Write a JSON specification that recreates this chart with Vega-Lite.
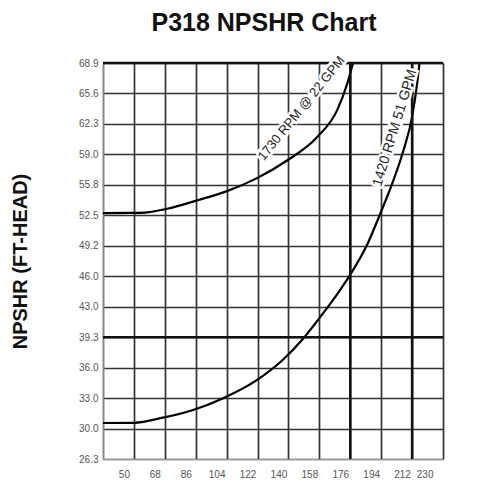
{
  "$schema": "https://vega.github.io/schema/vega-lite/v6.json",
  "autosize": "none",
  "width": 340,
  "height": 396,
  "padding": {"left": 103, "top": 63, "right": 34, "bottom": 30},
  "background": "white",
  "title": {
    "text": "P318 NPSHR Chart",
    "font": "Liberation Sans",
    "fontSize": 25,
    "fontWeight": "bold",
    "color": "#111111",
    "anchor": "middle",
    "frame": "group",
    "baseline": "bottom",
    "dx": -9,
    "offset": -7
  },
  "config": {"view": {"stroke": null}},
  "datasets": {
    "curves": [
      {"series": "1730 RPM", "temp": 32, "npshr": 52.74},
      {"series": "1730 RPM", "temp": 53.5, "npshr": 52.76},
      {"series": "1730 RPM", "temp": 69.3, "npshr": 53.2},
      {"series": "1730 RPM", "temp": 86.7, "npshr": 54.1},
      {"series": "1730 RPM", "temp": 104.2, "npshr": 55.1},
      {"series": "1730 RPM", "temp": 121.7, "npshr": 56.5},
      {"series": "1730 RPM", "temp": 139.2, "npshr": 58.4},
      {"series": "1730 RPM", "temp": 156.6, "npshr": 60.9},
      {"series": "1730 RPM", "temp": 168.3, "npshr": 63.8},
      {"series": "1730 RPM", "temp": 174.1, "npshr": 66.6},
      {"series": "1730 RPM", "temp": 177.6, "npshr": 68.9},
      {"series": "1420 RPM", "temp": 32, "npshr": 30.13},
      {"series": "1420 RPM", "temp": 50, "npshr": 30.15},
      {"series": "1420 RPM", "temp": 67, "npshr": 30.7},
      {"series": "1420 RPM", "temp": 84, "npshr": 31.5},
      {"series": "1420 RPM", "temp": 102, "npshr": 32.8},
      {"series": "1420 RPM", "temp": 122, "npshr": 34.8},
      {"series": "1420 RPM", "temp": 136, "npshr": 36.8},
      {"series": "1420 RPM", "temp": 148.5, "npshr": 39.2},
      {"series": "1420 RPM", "temp": 160, "npshr": 41.9},
      {"series": "1420 RPM", "temp": 168, "npshr": 43.9},
      {"series": "1420 RPM", "temp": 176, "npshr": 46.1},
      {"series": "1420 RPM", "temp": 186, "npshr": 49.4},
      {"series": "1420 RPM", "temp": 193.3, "npshr": 52.6},
      {"series": "1420 RPM", "temp": 201, "npshr": 56.2},
      {"series": "1420 RPM", "temp": 207, "npshr": 59.5},
      {"series": "1420 RPM", "temp": 212, "npshr": 63.1},
      {"series": "1420 RPM", "temp": 215, "npshr": 66.75},
      {"series": "1420 RPM", "temp": 216.3, "npshr": 68.9}
    ],
    "vlines": [{"temp": 176}, {"temp": 212}],
    "hlines": [{"npshr": 39.37}, {"npshr": 68.9}],
    "label1": [{"label": "1730 RPM @ 22 GPM", "temp": 147.5, "npshr": 64.0}],
    "label2": [{"label": "1420 RPM 51 GPM", "temp": 202.0, "npshr": 61.9}]
  },
  "layer": [
    {
      "data": {"name": "curves"},
      "mark": {"type": "line", "color": "black", "strokeWidth": 2.2, "interpolate": "monotone", "clip": true},
      "encoding": {
        "x": {
          "field": "temp",
          "type": "quantitative",
          "scale": {"domain": [32, 230], "nice": false, "zero": false},
          "axis": {
            "title": null,
            "values": [50, 68, 86, 104, 122, 140, 158, 176, 194, 212, 230],
            "tickCount": 30,
            "grid": true,
            "gridColor": "#333333",
            "gridWidth": 1.7,
            "domainColor": "#999999",
            "domainWidth": 1,
            "ticks": false,
            "labelPadding": 10,
            "labelOffset": -10,
            "labelFont": "Liberation Sans",
            "labelFontSize": 10,
            "labelColor": "#555555"
          }
        },
        "y": {
          "field": "npshr",
          "type": "quantitative",
          "scale": {"domain": [26.25, 68.9], "nice": false, "zero": false},
          "axis": {
            "title": "NPSHR (FT-HEAD)",
            "titleFont": "Liberation Sans",
            "titleFontSize": 20,
            "titleFontWeight": "bold",
            "titleColor": "#111111",
            "titleAngle": -90,
            "titleX": -83,
            "titleY": 198,
            "titleAlign": "center",
            "titleBaseline": "middle",
            "values": [26.25, 29.53, 32.81, 36.09, 39.37, 42.65, 45.93, 49.21, 52.49, 55.77, 59.06, 62.34, 65.62, 68.9],
            "tickCount": 30,
            "labelExpr": "['26.3','30.0','33.0','36.0','39.3','43.0','46.0','49.2','52.5','55.8','59.0','62.3','65.6','68.9'][round((datum.value - 26.25) / 3.2808)]",
            "grid": true,
            "gridColor": "#333333",
            "gridWidth": 1.7,
            "domainColor": "#888888",
            "domainWidth": 2,
            "ticks": false,
            "labelPadding": 5,
            "labelFont": "Liberation Sans",
            "labelFontSize": 10,
            "labelColor": "#555555"
          }
        },
        "detail": {"field": "series"}
      }
    },
    {
      "data": {"name": "vlines"},
      "mark": {"type": "rule", "color": "#111111", "strokeWidth": 2.5},
      "encoding": {"x": {"field": "temp", "type": "quantitative"}}
    },
    {
      "data": {"name": "hlines"},
      "mark": {"type": "rule", "color": "#111111", "strokeWidth": 2.5},
      "encoding": {"y": {"field": "npshr", "type": "quantitative"}}
    },
    {
      "data": {"name": "label1"},
      "mark": {"type": "text", "angle": -51, "font": "Liberation Sans", "fontSize": 13, "stroke": "white", "strokeWidth": 5, "fill": "white", "align": "center", "baseline": "middle"},
      "encoding": {"x": {"field": "temp", "type": "quantitative"}, "y": {"field": "npshr", "type": "quantitative"}, "text": {"field": "label"}}
    },
    {
      "data": {"name": "label1"},
      "mark": {"type": "text", "angle": -51, "font": "Liberation Sans", "fontSize": 13, "fill": "#222222", "align": "center", "baseline": "middle"},
      "encoding": {"x": {"field": "temp", "type": "quantitative"}, "y": {"field": "npshr", "type": "quantitative"}, "text": {"field": "label"}}
    },
    {
      "data": {"name": "label2"},
      "mark": {"type": "text", "angle": -73, "font": "Liberation Sans", "fontSize": 14, "stroke": "white", "strokeWidth": 5, "fill": "white", "align": "center", "baseline": "middle"},
      "encoding": {"x": {"field": "temp", "type": "quantitative"}, "y": {"field": "npshr", "type": "quantitative"}, "text": {"field": "label"}}
    },
    {
      "data": {"name": "label2"},
      "mark": {"type": "text", "angle": -73, "font": "Liberation Sans", "fontSize": 14, "fill": "#222222", "align": "center", "baseline": "middle"},
      "encoding": {"x": {"field": "temp", "type": "quantitative"}, "y": {"field": "npshr", "type": "quantitative"}, "text": {"field": "label"}}
    }
  ]
}
